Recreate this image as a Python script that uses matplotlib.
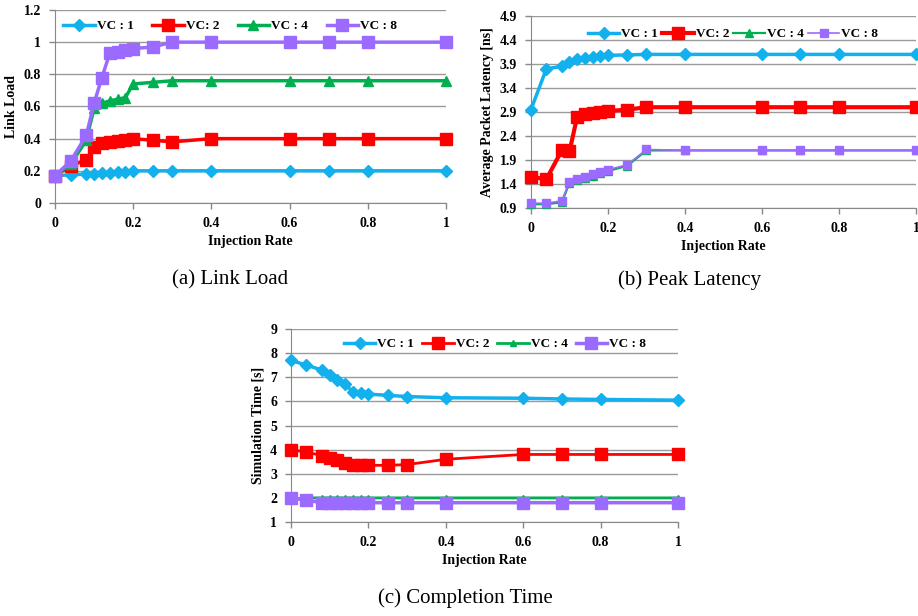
import matplotlib
matplotlib.use("Agg")
import matplotlib.pyplot as plt
from matplotlib.ticker import FuncFormatter


injection_rate = [0, 0.04, 0.08, 0.1, 0.12, 0.14, 0.16, 0.18, 0.2, 0.25, 0.3, 0.4, 0.6, 0.7, 0.8, 1.0]
series_names = ["VC : 1", "VC: 2", "VC : 4", "VC : 8"]

# (a) link load
load_vc1 = [0.17, 0.175, 0.18, 0.18, 0.185, 0.185, 0.19, 0.19, 0.2, 0.2, 0.2, 0.2, 0.2, 0.2, 0.2, 0.2]
load_vc2 = [0.17, 0.23, 0.27, 0.35, 0.37, 0.38, 0.385, 0.39, 0.40, 0.39, 0.38, 0.40, 0.40, 0.40, 0.40, 0.40]
load_vc4 = [0.17, 0.24, 0.39, 0.59, 0.62, 0.635, 0.645, 0.655, 0.74, 0.75, 0.76, 0.76, 0.76, 0.76, 0.76, 0.76]
load_vc8 = [0.17, 0.26, 0.42, 0.62, 0.78, 0.93, 0.94, 0.95, 0.96, 0.97, 1.0, 1.0, 1.0, 1.0, 1.0, 1.0]

# (b) peak latency
lat_vc1 = [2.95, 3.8, 3.85, 3.95, 4.0, 4.02, 4.04, 4.06, 4.08, 4.09, 4.1, 4.1, 4.1, 4.1, 4.1, 4.1]
lat_vc2 = [1.55, 1.5, 2.1, 2.08, 2.8, 2.85, 2.88, 2.9, 2.92, 2.95, 3.0, 3.0, 3.0, 3.0, 3.0, 3.0]
lat_vc4 = [0.98, 0.98, 1.02, 1.42, 1.48, 1.53, 1.57, 1.62, 1.67, 1.78, 2.1, 2.1, 2.1, 2.1, 2.1, 2.1]
lat_vc8 = [1.0, 1.0, 1.05, 1.45, 1.5, 1.55, 1.6, 1.65, 1.7, 1.8, 2.12, 2.1, 2.1, 2.1, 2.1, 2.1]

# (c) completion time
time_vc1 = [7.7, 7.5, 7.3, 7.1, 6.9, 6.7, 6.4, 6.35, 6.3, 6.25, 6.2, 6.15, 6.13, 6.1, 6.08, 6.05]
time_vc2 = [4.0, 3.9, 3.75, 3.65, 3.55, 3.45, 3.38, 3.35, 3.35, 3.35, 3.38, 3.6, 3.8, 3.8, 3.8, 3.8]
time_vc4 = [1.95, 2.0, 2.0, 2.0, 2.0, 2.0, 2.0, 2.0, 2.0, 2.0, 2.0, 2.0, 2.0, 2.0, 2.0, 2.0]
time_vc8 = [2.0, 1.9, 1.8, 1.8, 1.8, 1.8, 1.8, 1.8, 1.8, 1.8, 1.8, 1.8, 1.8, 1.8, 1.8, 1.8]

COLORS = ["#12B0EC", "#FF0000", "#00B050", "#9B6BFF"]
MARKERS = ["D", "s", "^", "s"]

plt.rcParams["font.family"] = ["Liberation Serif", "DejaVu Serif"]


def tick_fmt(v, pos):
    return "%g" % round(v, 2)


def setup_axes(ax, ylim, yticks, ylabel):
    ax.set_xlim(0, 1)
    ax.set_ylim(*ylim)
    ax.set_xticks([0, 0.2, 0.4, 0.6, 0.8, 1])
    ax.set_yticks(yticks)
    ax.xaxis.set_major_formatter(FuncFormatter(tick_fmt))
    ax.yaxis.set_major_formatter(FuncFormatter(tick_fmt))
    ax.grid(axis="y", color="#9a9a9a", linewidth=1)
    ax.set_axisbelow(True)
    for side in ["top", "right"]:
        ax.spines[side].set_visible(False)
    for side in ["left", "bottom"]:
        ax.spines[side].set_color("#888888")
    ax.tick_params(direction="out", length=4, color="#888888", width=1,
                   labelsize=10, pad=6)
    for lab in ax.get_xticklabels() + ax.get_yticklabels():
        lab.set_fontweight("bold")
    ax.set_xlabel("Injection Rate", fontsize=10, fontweight="bold", labelpad=4)
    ax.set_ylabel(ylabel, fontsize=10, fontweight="bold", labelpad=4)


def draw_series(ax, series, widths, sizes, legend_anchor, spacing):
    for i, values in enumerate(series):
        ax.plot(injection_rate, values, color=COLORS[i], marker=MARKERS[i],
                linewidth=widths[i], markersize=sizes[i], label=series_names[i],
                clip_on=False, zorder=3 + i)
    leg = ax.legend(loc="upper center", bbox_to_anchor=legend_anchor, ncol=4,
                    frameon=False, handlelength=2.4, handletextpad=0.15,
                    columnspacing=spacing, borderaxespad=0,
                    prop={"weight": "bold", "size": 9.5})
    return leg


fig = plt.figure(figsize=(9.18, 6.16), dpi=100)

ax_a = fig.add_axes([0.0599, 0.6705, 0.4259, 0.3133])
draw_series(ax_a, [load_vc1, load_vc2, load_vc4, load_vc8],
            [2.5, 2.5, 2.5, 2.5], [6, 8, 7, 9], (0.448, 0.975), 1.4)
setup_axes(ax_a, (0, 1.2), [0, 0.2, 0.4, 0.6, 0.8, 1.0, 1.2], "Link Load")

ax_b = fig.add_axes([0.5784, 0.6623, 0.4194, 0.3117])
draw_series(ax_b, [lat_vc1, lat_vc2, lat_vc4, lat_vc8],
            [2.5, 3, 1.6, 1.2], [6, 9, 6, 6], (0.525, 0.965), 0.3)
setup_axes(ax_b, (0.9, 4.9), [0.9, 1.4, 1.9, 2.4, 2.9, 3.4, 3.9, 4.4, 4.9],
           "Average Packet Latency [ns]")

ax_c = fig.add_axes([0.3170, 0.1526, 0.4216, 0.3133])
draw_series(ax_c, [time_vc1, time_vc2, time_vc4, time_vc8],
            [2.5, 2, 2, 2.5], [6, 8, 5, 8], (0.527, 0.98), 0.6)
setup_axes(ax_c, (1, 9), [1, 2, 3, 4, 5, 6, 7, 8, 9], "Simulation Time [s]")

fig.text(230 / 918, 1 - 280 / 616, "(a) Link Load", ha="center", va="center", fontsize=15)
fig.text(690 / 918, 1 - 280 / 616, "(b) Peak Latency", ha="center", va="center", fontsize=15)
fig.text(465 / 918, 1 - 598 / 616, "(c) Completion Time", ha="center", va="center", fontsize=15)

fig.savefig("out.png", dpi=100)
